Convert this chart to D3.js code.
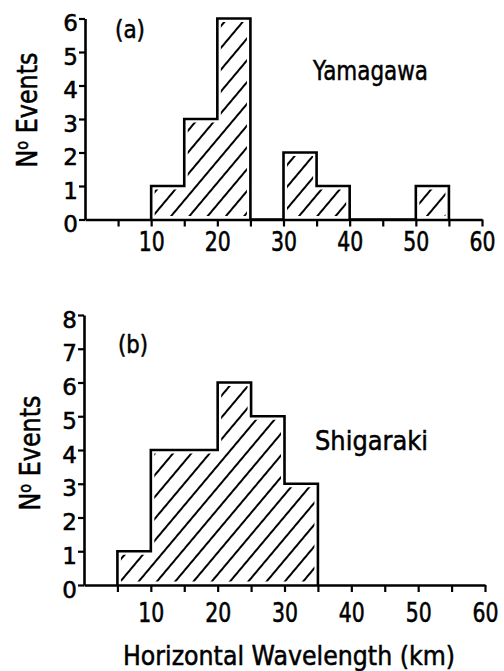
<!DOCTYPE html>
<html>
<head>
<meta charset="utf-8">
<script src="https://cdn.jsdelivr.net/npm/d3@7"></script>
<style>
  html, body { margin: 0; padding: 0; background: #fff; }
  svg { display: block; font-family: "DejaVu Sans", sans-serif; }
  svg text { stroke: #000; stroke-width: 0.55px; fill: #000; }
</style>
</head>
<body>
<svg id="chart" width="504" height="671"></svg>
<script>
// ---- data ----
const binWidth = 5;
const yamagawaBinStarts = [10, 15, 20, 25, 30, 35, 40, 45, 50];
const yamagawaCounts    = [ 1,  3,  6,  0,  2,  1,  0,  0,  1];
const shigarakiBinStarts = [5, 10, 15, 20, 25, 30];
const shigarakiCounts    = [1,  4,  4,  6,  5,  3];
const xTickValues = [5, 10, 15, 20, 25, 30, 35, 40, 45, 50, 55, 60];
const xTickLabels = ["", "10", "", "20", "", "30", "", "40", "", "50", "", "60"];
const yTicksA = [0, 1, 2, 3, 4, 5, 6];
const yTicksB = [0, 1, 2, 3, 4, 5, 6, 7, 8];
const panelLetters = ["(a)", "(b)"];
const siteNames = ["Yamagawa", "Shigaraki"];
const yLabel = "Events";
const xLabel = "Horizontal Wavelength (km)";

const svg = d3.select("#chart");

// hatch pattern
const defs = svg.append("defs");
const pat = defs.append("pattern")
  .attr("id", "hatch")
  .attr("patternUnits", "userSpaceOnUse")
  .attr("width", 14).attr("height", 14)
  .attr("patternTransform", "rotate(40)");
pat.append("line")
  .attr("x1", 4).attr("y1", 0).attr("x2", 4).attr("y2", 14)
  .attr("stroke", "#000").attr("stroke-width", 2);

function panel(cfg) {
  const x = d3.scaleLinear().domain([0, 60]).range(cfg.xRange);
  const y = d3.scaleLinear().domain([0, cfg.yMax]).range(cfg.yRange);
  const g = svg.append("g");

  // step points
  const pts = [[cfg.starts[0], 0]];
  cfg.starts.forEach((s, i) => pts.push([s, cfg.counts[i]]));
  pts.push([cfg.starts[cfg.starts.length - 1] + binWidth, 0]);

  const area = d3.area().curve(d3.curveStepAfter)
    .x(d => x(d[0])).y0(y(0)).y1(d => y(d[1]));
  const line = d3.line().curve(d3.curveStepAfter)
    .x(d => x(d[0])).y(d => y(d[1]));

  g.append("path").attr("d", area(pts)).attr("fill", "url(#hatch)");
  g.append("path").attr("d", area(pts)).attr("fill", "none")
    .attr("stroke", "#fff").attr("stroke-width", 7).attr("stroke-linejoin", "miter");
  g.append("path").attr("d", line(pts)).attr("fill", "none")
    .attr("stroke", "#000").attr("stroke-width", 2.6).attr("stroke-linejoin", "miter");

  // x axis
  const xa = g.append("g").attr("transform", `translate(0,${y(0)})`)
    .call(d3.axisBottom(x).tickValues(xTickValues)
      .tickFormat((d, i) => xTickLabels[i]).tickSize(7).tickSizeOuter(0).tickPadding(cfg.xPad));
  xa.select(".domain").attr("stroke-width", 2.6);
  xa.selectAll(".tick line").attr("stroke-width", 2.2);
  xa.selectAll(".tick text")
    .attr("font-size", 27).attr("font-family", "DejaVu Sans Condensed, DejaVu Sans")
    .attr("dy", "0").attr("y", cfg.xLabelBase)
    .attr("textLength", 26).attr("lengthAdjust", "spacingAndGlyphs");

  // y axis
  const ya = g.append("g").attr("transform", `translate(${x(0)},0)`)
    .call(d3.axisLeft(y).tickValues(cfg.yTicks).tickFormat(d3.format("d"))
      .tickSize(6).tickSizeOuter(0).tickPadding(1));
  ya.select(".domain").attr("stroke-width", 2.6);
  ya.selectAll(".tick line").attr("stroke-width", 2.2);
  ya.selectAll(".tick text")
    .attr("font-size", 23).attr("font-family", "DejaVu Sans")
    .attr("dy", "0").attr("y", 12);

  // panel letter and name
  g.append("text").attr("x", cfg.letterPos[0]).attr("y", cfg.letterPos[1])
    .attr("font-size", 24).attr("textLength", 30).attr("lengthAdjust", "spacingAndGlyphs")
    .text(cfg.letter);
  g.append("text").attr("x", cfg.namePos[0]).attr("y", cfg.namePos[1])
    .attr("font-size", 27).attr("textLength", cfg.nameLen).attr("lengthAdjust", "spacingAndGlyphs")
    .text(cfg.name);

  // y label
  const yl = g.append("text")
    .attr("transform", `translate(${cfg.yLabelPos[0]},${cfg.yLabelPos[1]}) rotate(-90)`)
    .attr("text-anchor", "middle").attr("font-size", 28)
    .attr("textLength", 115).attr("lengthAdjust", "spacingAndGlyphs");
  yl.append("tspan").text("N");
  yl.append("tspan").attr("font-size", 17).attr("dy", -9).text("o");
  yl.append("tspan").attr("dy", 9).text(" " + yLabel);
  return { x, y };
}

panel({
  xRange: [85, 482], yRange: [219.5, 18.5], yMax: 6,
  starts: yamagawaBinStarts, counts: yamagawaCounts, yTicks: yTicksA,
  xPad: 4, xLabelBase: 31,
  letter: panelLetters[0], letterPos: [115, 38],
  name: siteNames[0], namePos: [313, 80], nameLen: 115,
  yLabelPos: [37, 110]
});
panel({
  xRange: [84, 485], yRange: [585, 315], yMax: 8,
  starts: shigarakiBinStarts, counts: shigarakiCounts, yTicks: yTicksB,
  xPad: 4, xLabelBase: 37,
  letter: panelLetters[1], letterPos: [118, 353],
  name: siteNames[1], namePos: [315, 450], nameLen: 113,
  yLabelPos: [40, 453]
});

svg.append("text").attr("x", 289).attr("y", 665)
  .attr("text-anchor", "middle").attr("font-size", 27)
  .attr("textLength", 332).attr("lengthAdjust", "spacingAndGlyphs")
  .text(xLabel);
</script>
</body>
</html>
